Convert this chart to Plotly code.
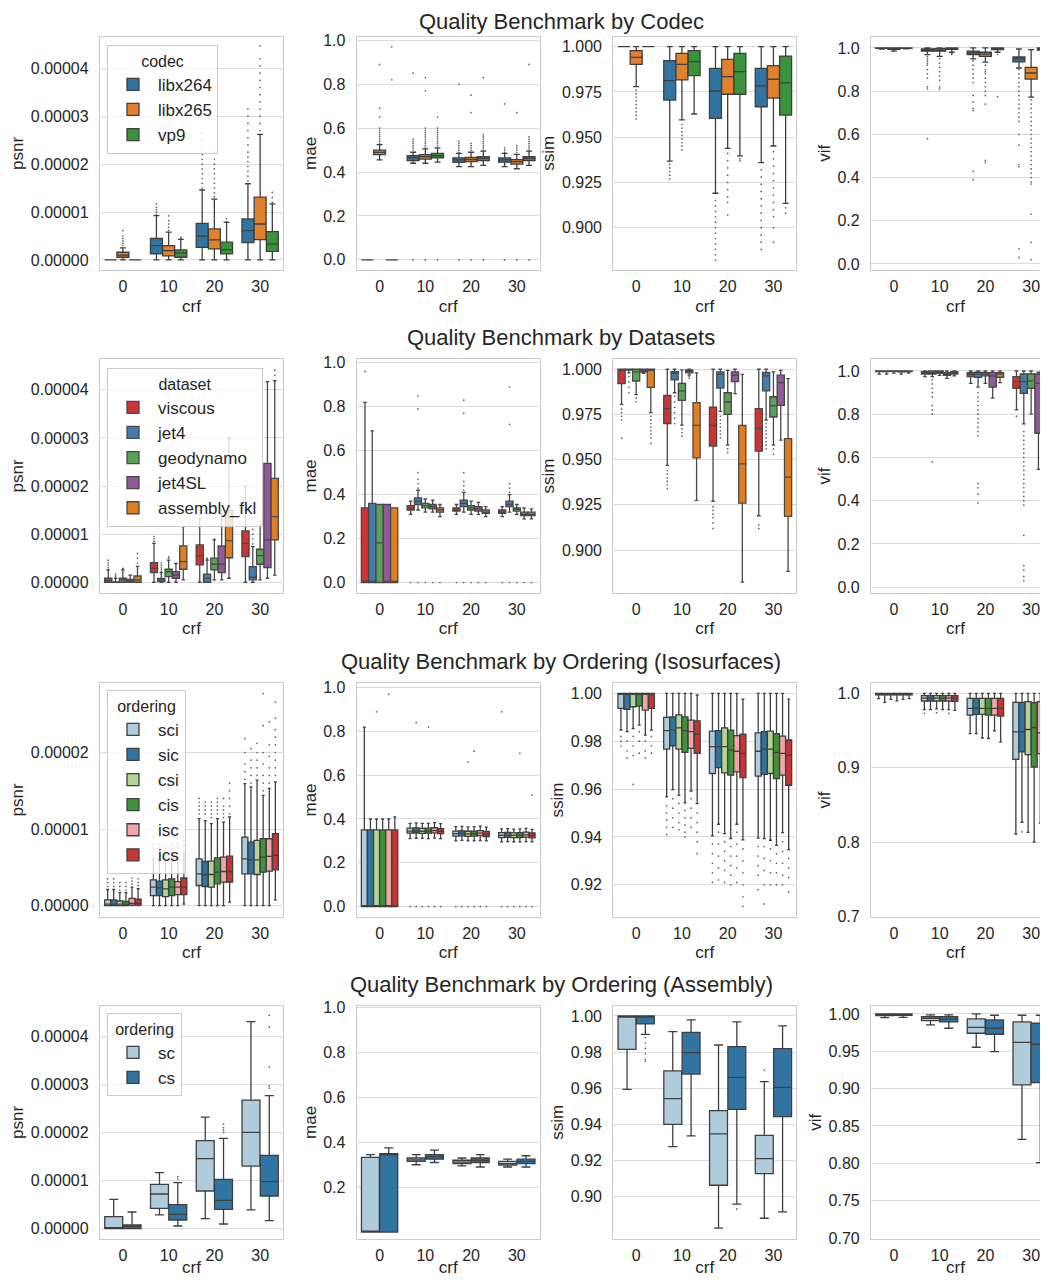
import plotly.graph_objects as go
from plotly.subplots import make_subplots

CRF_LABELS = ["0", "10", "20", "30"]
METRICS = ["psnr", "mae", "ssim", "vif"]

# ================= Row 1: codec =================
CODECS = ["libx264", "libx265", "vp9"]
CODEC_COLORS = ["#3274a1", "#e1812c", "#3a923a"]

# psnr values in units of 1e-5 ; rows = hue, cols = crf
codec_psnr_lo = [[0, 0, 0, 0], [0, 0, 0, 0], [0, 0, 0, 0]]
codec_psnr_q1 = [[0, 0.125, 0.264, 0.362], [0.056, 0.083, 0.23, 0.424], [0, 0.056, 0.125, 0.18]]
codec_psnr_med = [[0, 0.30, 0.494, 0.612], [0.10, 0.195, 0.417, 0.75], [0, 0.146, 0.216, 0.334]]
codec_psnr_q3 = [[0, 0.45, 0.765, 0.856], [0.16, 0.30, 0.647, 1.31], [0, 0.21, 0.37, 0.59]]
codec_psnr_hi = [[0, 0.925, 1.46, 1.59], [0.25, 0.58, 1.27, 2.62], [0, 0.43, 0.786, 1.17]]
codec_psnr_fl = [
    [[], [0.95, 1.0, 1.05, 1.1, 1.17], [1.5, 1.6, 1.7, 1.8, 1.9, 2.0, 2.1, 2.2, 2.35, 2.5, 2.65],
     [1.65, 1.75, 1.85, 1.95, 2.05, 2.15, 2.25, 2.4, 2.55, 2.7, 2.85, 3.0, 3.15]],
    [[0.3, 0.35, 0.4, 0.45, 0.5, 0.61], [0.62, 0.68, 0.75, 0.82, 0.92],
     [1.32, 1.4, 1.5, 1.6, 1.7, 1.8, 1.9, 2.0, 2.1, 2.25],
     [2.7, 2.85, 3.0, 3.15, 3.3, 3.45, 3.6, 3.75, 3.9, 4.05, 4.2, 4.47]],
    [[], [0.45, 0.47], [0.8, 0.86], [1.2, 1.3, 1.41]],
]

codec_mae_lo = [[0, 0.44, 0.425, 0.425], [0.455, 0.44, 0.425, 0.415], [0, 0.445, 0.43, 0.43]]
codec_mae_q1 = [[0, 0.452, 0.444, 0.445], [0.479, 0.459, 0.448, 0.436], [0, 0.464, 0.452, 0.452]]
codec_mae_med = [[0, 0.464, 0.455, 0.455], [0.489, 0.47, 0.458, 0.447], [0, 0.474, 0.462, 0.462]]
codec_mae_q3 = [[0, 0.474, 0.464, 0.464], [0.50, 0.479, 0.467, 0.456], [0, 0.485, 0.47, 0.47]]
codec_mae_hi = [[0, 0.49, 0.485, 0.485], [0.525, 0.505, 0.49, 0.48], [0, 0.51, 0.495, 0.495]]
codec_mae_fl = [
    [[], [0.0, 0.5, 0.51, 0.52, 0.53, 0.54, 0.55, 0.85], [0.0, 0.49, 0.5, 0.51, 0.52, 0.53, 0.54, 0.80],
     [0.0, 0.49, 0.5, 0.51, 0.71]],
    [[0.53, 0.54, 0.55, 0.56, 0.57, 0.58, 0.59, 0.6, 0.65, 0.69, 0.89],
     [0.0, 0.51, 0.52, 0.53, 0.54, 0.55, 0.56, 0.57, 0.58, 0.59, 0.6, 0.77, 0.83],
     [0.0, 0.5, 0.51, 0.52, 0.53, 0.67, 0.75], [0.0, 0.49, 0.5, 0.51, 0.52, 0.67]],
    [[0.82, 0.97], [0.0, 0.52, 0.53, 0.54, 0.55, 0.56, 0.57, 0.58, 0.59, 0.6, 0.65],
     [0.0, 0.5, 0.51, 0.52, 0.53, 0.54, 0.55, 0.56, 0.57, 0.83],
     [0.0, 0.5, 0.51, 0.52, 0.53, 0.54, 0.55, 0.56, 0.89]],
]

codec_ssim_lo = [[1, 0.9368, 0.919, 0.9359], [0.9779, 0.9595, 0.9438, 0.9451], [1, 0.9628, 0.9396, 0.9134]]
codec_ssim_q1 = [[1, 0.9705, 0.9604, 0.9668], [0.9902, 0.9816, 0.9737, 0.9716], [1, 0.984, 0.9737, 0.9622]]
codec_ssim_med = [[1, 0.9812, 0.9755, 0.9783], [0.9941, 0.9902, 0.9834, 0.982], [1, 0.9917, 0.9862, 0.980]]
codec_ssim_q3 = [[1, 0.9923, 0.988, 0.988], [0.9978, 0.9963, 0.993, 0.9895], [1, 0.9978, 0.9963, 0.9948]]
codec_ssim_hi = [[1, 1, 1, 1], [1, 1, 1, 1], [1, 1, 1, 1]]
codec_ssim_fl = [
    [[], [0.935, 0.933, 0.931, 0.929, 0.927],
     [0.915, 0.912, 0.909, 0.906, 0.903, 0.90, 0.897, 0.894, 0.891, 0.888, 0.885, 0.882],
     [0.932, 0.928, 0.924, 0.92, 0.916, 0.912, 0.908, 0.904, 0.90, 0.896, 0.892, 0.888]],
    [[0.976, 0.974, 0.972, 0.97, 0.968, 0.966, 0.964, 0.962, 0.96],
     [0.957, 0.955, 0.953, 0.951, 0.949, 0.947, 0.945, 0.943],
     [0.941, 0.937, 0.933, 0.929, 0.925, 0.921, 0.917, 0.914, 0.907],
     [0.942, 0.938, 0.934, 0.93, 0.926, 0.922, 0.918, 0.914, 0.91, 0.906, 0.90, 0.892]],
    [[], [], [0.938, 0.937], [0.911, 0.908]],
]

codec_vif_lo = [[0.995, 0.969, 0.949, 0.907], [0.985, 0.961, 0.934, 0.772], [0.996, 0.98, 0.98, 0.98]]
codec_vif_q1 = [[0.998, 0.985, 0.969, 0.935], [0.994, 0.985, 0.961, 0.856], [0.998, 0.993, 0.992, 0.99]]
codec_vif_med = [[0.999, 0.99, 0.977, 0.949], [0.998, 0.99, 0.971, 0.884], [0.999, 0.997, 0.997, 0.995]]
codec_vif_q3 = [[1, 0.995, 0.985, 0.958], [1, 0.997, 0.98, 0.91], [1, 1, 1, 1]]
codec_vif_hi = [[1, 1, 1, 0.995], [1, 1, 1, 0.992], [1, 1, 1, 1]]
codec_vif_fl = [
    [[], [0.96, 0.95, 0.94, 0.93, 0.92, 0.9, 0.88, 0.86, 0.82, 0.81, 0.58],
     [0.94, 0.92, 0.9, 0.88, 0.86, 0.84, 0.78, 0.75, 0.72, 0.71, 0.43, 0.39],
     [0.9, 0.88, 0.86, 0.84, 0.82, 0.8, 0.78, 0.76, 0.74, 0.72, 0.7, 0.68, 0.66, 0.6, 0.55, 0.46, 0.45, 0.07, 0.03]],
    [[], [0.95, 0.93, 0.91, 0.89, 0.87, 0.85, 0.82, 0.81],
     [0.92, 0.9, 0.89, 0.88, 0.86, 0.84, 0.82, 0.8, 0.78, 0.74, 0.48, 0.47],
     [0.76, 0.74, 0.72, 0.7, 0.68, 0.66, 0.64, 0.62, 0.6, 0.58, 0.56, 0.54, 0.52, 0.5, 0.48,
      0.46, 0.44, 0.42, 0.4, 0.38, 0.37, 0.23, 0.1, 0.02]],
    [[], [0.975, 0.97], [0.97, 0.775], [0.97, 0.69]],
]

# ================= Row 2: dataset =================
DATASETS = ["viscous", "jet4", "geodynamo", "jet4SL", "assembly_fkl"]
DATASET_COLORS = ["#cb3335", "#477ca8", "#59a257", "#905998", "#df8020"]

ds_psnr_lo = [[0, 0, 0, 0], [0, 0, 0, 0], [0, 0, 0.05, 0.05], [0, 0, 0.05, 0.083], [0, 0.05, 0.083, 0.15]]
ds_psnr_q1 = [[0, 0.2, 0.36, 0.534], [0, 0.014, 0, 0.05], [0, 0.118, 0.256, 0.374], [0.005, 0.083, 0.2, 0.305], [0, 0.27, 0.51, 0.88]]
ds_psnr_med = [[0.03, 0.29, 0.554, 0.81], [0.005, 0.05, 0.08, 0.104], [0.05, 0.22, 0.374, 0.554], [0.03, 0.15, 0.374, 0.88], [0.05, 0.43, 0.866, 1.365]]
ds_psnr_q3 = [[0.083, 0.409, 0.776, 1.067], [0.01, 0.08, 0.17, 0.326], [0.083, 0.27, 0.5, 0.686], [0.06, 0.22, 0.755, 2.47], [0.13, 0.755, 1.5, 2.16]]
ds_psnr_hi = [[0.256, 0.81, 1.33, 2.0], [0.08, 0.2, 0.46, 0.74], [0.256, 0.46, 0.88, 1.19], [0.15, 0.39, 1.43, 4.17], [0.33, 1.157, 3.0, 4.19]]
ds_psnr_fl = [
    [[0.3, 0.35, 0.4, 0.46], [0.85, 0.9, 0.95], [1.4, 1.5, 1.6], [2.1]],
    [[0.1, 0.13, 0.17], [0.22, 0.26, 0.3, 0.35, 0.4], [0.48, 0.5], [0.8, 0.9, 1.0, 1.1, 1.2]],
    [[0.28, 0.29], [0.5, 0.53], [0.9], [1.25]],
    [[], [], [], []],
    [[0.4, 0.5, 0.6], [], [], [4.3, 4.41]],
]

ds_mae_lo = [[0, 0.31, 0.31, 0.30], [0, 0.33, 0.32, 0.32], [0, 0.32, 0.31, 0.31], [0, 0.32, 0.31, 0.29], [0, 0.30, 0.30, 0.29]]
ds_mae_q1 = [[0, 0.33, 0.325, 0.315], [0, 0.355, 0.345, 0.345], [0, 0.34, 0.33, 0.325], [0, 0.335, 0.325, 0.305], [0, 0.32, 0.315, 0.305]]
ds_mae_med = [[0, 0.34, 0.33, 0.32], [0, 0.37, 0.36, 0.355], [0.18, 0.35, 0.34, 0.333], [0, 0.345, 0.335, 0.31], [0, 0.33, 0.32, 0.31]]
ds_mae_q3 = [[0.34, 0.35, 0.34, 0.33], [0.36, 0.385, 0.375, 0.37], [0.355, 0.36, 0.35, 0.34], [0.355, 0.355, 0.345, 0.32], [0.34, 0.34, 0.33, 0.32]]
ds_mae_hi = [[0.82, 0.37, 0.355, 0.345], [0.69, 0.42, 0.41, 0.40], [0.355, 0.38, 0.37, 0.355], [0.355, 0.375, 0.365, 0.34], [0.34, 0.355, 0.345, 0.335]]
ds_mae_fl = [
    [[0.96], [0.0], [0.0], [0.0]],
    [[], [0.0, 0.43, 0.45, 0.47, 0.5, 0.79, 0.85], [0.0, 0.42, 0.44, 0.46, 0.5, 0.77, 0.83], [0.0, 0.41, 0.43, 0.45, 0.72, 0.89]],
    [[], [0.0], [0.0], [0.0]],
    [[], [0.0], [0.0], [0.0]],
    [[], [0.0], [0.0], [0.0]],
]

ds_ssim_lo = [[0.9806, 0.9468, 0.927, 0.919], [0.998, 0.987, 0.9767, 0.9719], [0.986, 0.9691, 0.958, 0.958], [0.9978, 0.9967, 0.9865, 0.9608], [0.976, 0.9275, 0.8823, 0.8882]]
ds_ssim_q1 = [[0.992, 0.970, 0.9575, 0.9547], [0.9995, 0.9941, 0.9896, 0.988], [0.9935, 0.9828, 0.975, 0.9736], [0.9985, 0.998, 0.9932, 0.98], [0.990, 0.951, 0.926, 0.9187]]
ds_ssim_med = [[1.0, 0.9782, 0.969, 0.9673], [1.0, 0.9978, 0.9972, 0.9963], [0.9985, 0.988, 0.9819, 0.9797], [0.999, 0.9989, 0.9967, 0.9926], [1.0, 0.969, 0.9477, 0.9403]]
ds_ssim_q3 = [[1, 0.9856, 0.979, 0.9782], [1, 0.9987, 0.9985, 0.9982], [1, 0.9922, 0.987, 0.9848], [1, 0.9996, 0.9985, 0.9967], [1, 0.9815, 0.969, 0.9616]]
ds_ssim_hi = [[1, 1, 1, 1], [1, 1, 1, 1], [1, 0.9996, 0.9994, 0.9985], [1, 1, 1, 0.9994], [1, 0.998, 0.9972, 0.9948]]
ds_ssim_fl = [
    [[0.978, 0.976, 0.974, 0.972, 0.962], [0.944, 0.942, 0.94, 0.938, 0.936, 0.934],
     [0.924, 0.922, 0.92, 0.918, 0.915, 0.912], [0.914, 0.912]],
    [[0.996, 0.993, 0.99, 0.987], [0.985, 0.982, 0.979, 0.976, 0.973, 0.970],
     [0.974, 0.972, 0.97, 0.968, 0.966, 0.964, 0.962], [0.97, 0.968, 0.966, 0.964, 0.962, 0.96, 0.958, 0.956]],
    [[0.984, 0.982], [0.967, 0.965, 0.963], [0.956, 0.954], [0.956, 0.953]],
    [[], [0.996, 0.995], [], []],
    [[0.974, 0.972, 0.970, 0.968, 0.966, 0.964, 0.962, 0.959], [], [], []],
]

ds_vif_lo = [[0.985, 0.974, 0.943, 0.82], [0.985, 0.974, 0.925, 0.755], [0.99, 0.98, 0.943, 0.80], [0.985, 0.966, 0.874, 0.545], [0.99, 0.977, 0.946, 0.80]]
ds_vif_q1 = [[0.997, 0.986, 0.974, 0.92], [0.997, 0.986, 0.971, 0.897], [0.998, 0.989, 0.977, 0.92], [0.996, 0.98, 0.925, 0.712], [0.997, 0.986, 0.971, 0.909]]
ds_vif_med = [[0.999, 0.992, 0.985, 0.951], [0.999, 0.992, 0.985, 0.951], [0.999, 0.995, 0.985, 0.954], [0.998, 0.986, 0.977, 0.943], [0.999, 0.992, 0.985, 0.958]]
ds_vif_q3 = [[1, 0.997, 0.992, 0.974], [1, 1, 0.994, 0.986], [1, 1, 0.992, 0.986], [1, 0.992, 0.992, 0.986], [1, 0.997, 0.992, 0.992]]
ds_vif_hi = [[1, 1, 1, 1], [1, 1, 1, 1], [1, 1, 1, 1], [1, 1, 1, 0.994], [1, 1, 1, 1]]
ds_vif_fl = [
    [[], [], [], [0.79]],
    [[], [0.96, 0.94, 0.92, 0.9, 0.88, 0.84, 0.82, 0.8, 0.58],
     [0.9, 0.88, 0.86, 0.84, 0.82, 0.8, 0.78, 0.76, 0.74, 0.72, 0.7, 0.48, 0.46, 0.43, 0.39],
     [0.72, 0.7, 0.68, 0.66, 0.64, 0.62, 0.6, 0.58, 0.56, 0.54, 0.52, 0.5, 0.48, 0.46, 0.44,
      0.42, 0.4, 0.38, 0.24, 0.1, 0.08, 0.05, 0.03]],
    [[], [], [], []],
    [[], [], [], []],
    [[], [], [], []],
]

# ================= Row 3: ordering (isosurfaces) =================
ORDER6 = ["sci", "sic", "csi", "cis", "isc", "ics"]
ORDER6_COLORS = ["#aeccdc", "#3274a1", "#b3d495", "#40923a", "#efa6a5", "#ca3334"]

iso_psnr_lo = [[0, 0, 0, 0], [0, 0, 0, 0], [0, 0, 0, 0], [0, 0, 0, 0], [0, 0, 0, 0], [0, 0.02, 0.044, 0.074]]
iso_psnr_q1 = [[0, 0.131, 0.262, 0.415], [0, 0.131, 0.249, 0.415], [0, 0.118, 0.24, 0.406], [0, 0.131, 0.284, 0.437], [0.005, 0.144, 0.306, 0.45], [0.005, 0.144, 0.306, 0.467]]
iso_psnr_med = [[0.02, 0.24, 0.415, 0.611], [0.02, 0.23, 0.406, 0.598], [0.02, 0.218, 0.406, 0.598], [0.02, 0.24, 0.437, 0.633], [0.03, 0.24, 0.445, 0.642], [0.03, 0.24, 0.445, 0.655]]
iso_psnr_q3 = [[0.075, 0.336, 0.611, 0.895], [0.075, 0.319, 0.576, 0.83], [0.06, 0.336, 0.58, 0.852], [0.055, 0.35, 0.624, 0.873], [0.095, 0.314, 0.633, 0.873], [0.085, 0.36, 0.646, 0.939]]
iso_psnr_hi = [[0.21, 0.61, 1.135, 1.594], [0.21, 0.59, 1.11, 1.55], [0.17, 0.60, 1.07, 1.64], [0.17, 0.63, 1.135, 1.44], [0.24, 0.62, 1.09, 1.53], [0.22, 0.686, 1.157, 1.616]]
iso_psnr_fl = [
    [[0.25, 0.3, 0.35, 0.48], [0.65, 0.7, 0.75, 0.8, 0.9], [1.2, 1.25, 1.3, 1.35, 1.4], [1.65, 1.75, 1.85, 2.0, 2.18]],
    [[0.25, 0.3, 0.35], [0.65, 0.7, 0.75, 0.8, 0.9], [1.2, 1.25, 1.3, 1.35], [1.6, 1.7, 1.8, 1.9, 2.05]],
    [[0.2, 0.25, 0.3], [0.65, 0.7, 0.75, 0.8, 0.9], [1.15, 1.2, 1.25, 1.3, 1.35], [1.7, 1.8, 1.9, 2.0, 2.12]],
    [[0.2, 0.25, 0.3], [0.65, 0.7, 0.75, 0.8, 0.9], [1.2, 1.25, 1.3, 1.35, 1.4], [1.5, 1.6, 1.7, 1.85, 2.0, 2.35, 2.77]],
    [[0.28, 0.32, 0.36], [0.65, 0.7, 0.75, 0.8, 0.9], [1.15, 1.2, 1.25, 1.3, 1.4], [1.6, 1.7, 1.8, 1.95, 2.1, 2.4]],
    [[0.26, 0.3, 0.35], [0.72, 0.78, 0.85, 0.9], [1.2, 1.3, 1.4, 1.5, 1.6], [1.7, 1.8, 1.9, 2.0, 2.1, 2.2, 2.3, 2.45, 2.66]],
]

iso_mae_lo = [[0, 0.31, 0.30, 0.295], [0, 0.312, 0.302, 0.297], [0, 0.311, 0.30, 0.296], [0, 0.31, 0.30, 0.295], [0, 0.313, 0.301, 0.297], [0, 0.31, 0.30, 0.295]]
iso_mae_q1 = [[0, 0.335, 0.322, 0.315], [0, 0.336, 0.323, 0.316], [0, 0.334, 0.321, 0.315], [0, 0.335, 0.322, 0.315], [0, 0.337, 0.324, 0.317], [0, 0.333, 0.32, 0.314]]
iso_mae_med = [[0, 0.345, 0.333, 0.325], [0, 0.346, 0.334, 0.326], [0, 0.344, 0.332, 0.325], [0, 0.345, 0.333, 0.325], [0, 0.347, 0.335, 0.327], [0, 0.343, 0.331, 0.324]]
iso_mae_q3 = [[0.35, 0.358, 0.345, 0.338], [0.35, 0.359, 0.346, 0.339], [0.35, 0.357, 0.344, 0.337], [0.35, 0.358, 0.345, 0.338], [0.35, 0.36, 0.347, 0.34], [0.35, 0.356, 0.343, 0.336]]
iso_mae_hi = [[0.82, 0.38, 0.365, 0.355], [0.40, 0.382, 0.366, 0.356], [0.40, 0.38, 0.364, 0.354], [0.40, 0.38, 0.365, 0.355], [0.40, 0.383, 0.367, 0.357], [0.41, 0.379, 0.363, 0.353]]
iso_mae_fl = [
    [[], [0.0], [0.0], [0.0, 0.89]],
    [[], [0.0, 0.84], [0.0], [0.0]],
    [[0.89], [0.0], [0.0, 0.66], [0.0]],
    [[], [0.0, 0.82], [0.0, 0.71], [0.0, 0.7]],
    [[0.97], [0.0], [0.0], [0.0]],
    [[], [0.0], [0.0], [0.0, 0.51]],
]

iso_ssim_lo = [[0.9846, 0.9567, 0.9404, 0.9395], [0.984, 0.9598, 0.9453, 0.9393], [0.9853, 0.9574, 0.9414, 0.9386], [0.9867, 0.9542, 0.9393, 0.9365], [0.9825, 0.9592, 0.9453, 0.9418], [0.9846, 0.9539, 0.9388, 0.9347]]
iso_ssim_q1 = [[0.9937, 0.9767, 0.9665, 0.9654], [0.9933, 0.9781, 0.969, 0.9662], [0.9944, 0.9767, 0.9668, 0.9665], [0.9947, 0.9753, 0.9658, 0.9644], [0.993, 0.977, 0.9672, 0.9658], [0.9937, 0.9749, 0.9648, 0.9616]]
iso_ssim_med = [[1.0, 0.9844, 0.9777, 0.9758], [1.0, 0.9846, 0.9777, 0.9767], [1.0, 0.9856, 0.9777, 0.9767], [1.0, 0.9844, 0.9763, 0.9753], [1.0, 0.984, 0.9758, 0.9749], [1.0, 0.983, 0.9749, 0.9742]]
iso_ssim_q3 = [[1, 0.99, 0.9842, 0.9835], [1, 0.9902, 0.9844, 0.984], [1, 0.991, 0.9856, 0.9842], [1, 0.9902, 0.9846, 0.9832], [1, 0.9888, 0.9823, 0.9821], [1, 0.9885, 0.983, 0.9805]]
iso_ssim_hi = [[1, 1, 1, 1], [1, 1, 1, 1], [1, 1, 1, 1], [1, 1, 1, 1], [1, 1, 1, 1], [1, 0.9993, 0.9976, 0.9976]]
iso_ssim_fl = [
    [[0.982, 0.98, 0.978], [0.953, 0.95, 0.947, 0.944, 0.941], [0.937, 0.933, 0.929, 0.925, 0.921], [0.936, 0.932, 0.928, 0.924, 0.918]],
    [[0.98, 0.976, 0.973], [0.956, 0.952, 0.948, 0.944], [0.942, 0.937, 0.932, 0.927, 0.922], [0.936, 0.931, 0.926, 0.92, 0.912]],
    [[0.982, 0.978, 0.974, 0.962], [0.954, 0.95, 0.946, 0.943], [0.938, 0.934, 0.93, 0.926, 0.921], [0.935, 0.93, 0.925, 0.92]],
    [[0.984, 0.98, 0.975], [0.951, 0.948, 0.945, 0.942, 0.94], [0.936, 0.932, 0.928, 0.924, 0.92], [0.933, 0.929, 0.925, 0.92]],
    [[0.98, 0.976, 0.973], [0.956, 0.952, 0.948, 0.944], [0.942, 0.937, 0.932, 0.927, 0.921], [0.938, 0.934, 0.929, 0.924, 0.92]],
    [[0.982, 0.978, 0.975], [0.95, 0.946, 0.942, 0.938, 0.933], [0.935, 0.93, 0.925, 0.92, 0.915, 0.911], [0.931, 0.927, 0.923, 0.917]],
]

iso_vif_lo = [[0.993, 0.978, 0.946, 0.811], [0.988, 0.978, 0.946, 0.8268], [0.992, 0.979, 0.94, 0.8133], [0.99, 0.978, 0.9393, 0.80], [0.992, 0.978, 0.9496, 0.8255], [0.993, 0.977, 0.9348, 0.785]]
iso_vif_q1 = [[0.998, 0.9897, 0.9708, 0.9114], [0.998, 0.9897, 0.9717, 0.9213], [0.998, 0.9897, 0.9717, 0.9177], [0.998, 0.9897, 0.9708, 0.901], [0.998, 0.9897, 0.9708, 0.919], [0.998, 0.9893, 0.9694, 0.8988]]
iso_vif_med = [[0.999, 0.9937, 0.9798, 0.9483], [0.999, 0.9937, 0.9798, 0.9483], [0.999, 0.9937, 0.9798, 0.9514], [0.999, 0.9937, 0.9798, 0.9541], [0.999, 0.9937, 0.9798, 0.9469], [0.999, 0.9937, 0.9798, 0.9514]]
iso_vif_q3 = [[1, 0.9969, 0.9933, 0.9879], [1, 0.9969, 0.9933, 0.9879], [1, 0.9969, 0.9933, 0.9888], [1, 0.9969, 0.9933, 0.9874], [1, 0.9969, 0.9933, 0.9888], [1, 0.9969, 0.9933, 0.9888]]
iso_vif_hi = [[1, 1, 1, 1], [1, 1, 1, 1], [1, 1, 1, 1], [1, 1, 1, 1], [1, 1, 1, 1], [1, 1, 1, 1]]
iso_vif_fl = [
    [[], [0.973], [], []], [[], [], [], [0.814]], [[], [0.974], [], []],
    [[], [], [], []], [[], [0.973], [], []], [[], [], [], []],
]

# ================= Row 4: ordering (assembly) =================
ORDER2 = ["sc", "cs"]
ORDER2_COLORS = ["#aeccdc", "#3274a1"]

asm_psnr_lo = [[0, 0.284, 0.208, 0.388], [0, 0.055, 0.097, 0.166]]
asm_psnr_q1 = [[0, 0.422, 0.782, 1.3], [0, 0.18, 0.401, 0.678]]
asm_psnr_med = [[0, 0.72, 1.453, 2.0], [0.04, 0.298, 0.588, 0.976]]
asm_psnr_q3 = [[0.249, 0.92, 1.827, 2.67], [0.076, 0.498, 1.024, 1.523]]
asm_psnr_hi = [[0.609, 1.163, 2.318, 4.3], [0.346, 0.955, 1.875, 2.761]]
asm_psnr_fl = [
    [[], [], [], []],
    [[], [1.03, 1.08], [2.0, 2.05, 2.1, 2.17], [2.92, 2.97, 3.36, 4.19, 4.43]],
]

asm_mae_lo = [[0, 0.30, 0.295, 0.29], [0, 0.31, 0.29, 0.29]]
asm_mae_q1 = [[0, 0.315, 0.305, 0.298], [0, 0.325, 0.31, 0.305]]
asm_mae_med = [[0, 0.322, 0.312, 0.305], [0.345, 0.335, 0.32, 0.315]]
asm_mae_q3 = [[0.333, 0.33, 0.32, 0.315], [0.35, 0.345, 0.33, 0.325]]
asm_mae_hi = [[0.345, 0.345, 0.33, 0.325], [0.375, 0.365, 0.345, 0.34]]
asm_mae_fl = [[[], [], [], []], [[], [], [], []]]

asm_ssim_lo = [[0.9593, 0.9275, 0.8823, 0.8878], [0.9898, 0.9335, 0.8956, 0.8913]]
asm_ssim_q1 = [[0.9815, 0.9399, 0.9061, 0.9126], [0.9956, 0.9678, 0.9482, 0.9442]]
asm_ssim_med = [[1.0, 0.9542, 0.9346, 0.9209], [0.9996, 0.9797, 0.966, 0.9604]]
asm_ssim_q3 = [[1.0, 0.9695, 0.9475, 0.9338], [1.0, 0.9909, 0.983, 0.9819]]
asm_ssim_hi = [[1.0, 0.9913, 0.9839, 0.9636], [1.0, 0.9978, 0.9967, 0.9945]]
asm_ssim_fl = [
    [[], [], [], [0.97]],
    [[0.988, 0.985, 0.982, 0.979, 0.976, 0.975], [], [0.893], []],
]

asm_vif_lo = [[0.995, 0.9853, 0.9554, 0.8321], [0.9955, 0.9808, 0.9496, 0.8009]]
asm_vif_q1 = [[0.9978, 0.9911, 0.9741, 0.9049], [0.998, 0.9893, 0.9728, 0.908]]
asm_vif_med = [[0.9995, 0.9942, 0.9821, 0.962], [0.9995, 0.9929, 0.9808, 0.9594]]
asm_vif_q3 = [[1.0, 0.9964, 0.9933, 0.9893], [1.0, 0.9964, 0.992, 0.9875]]
asm_vif_hi = [[1.0, 0.9987, 1.0, 0.9982], [1.0, 0.9987, 0.9982, 0.9982]]
asm_vif_fl = [[[], [], [], []], [[], [], [], []]]

ROW_TITLES = ["Quality Benchmark by Codec", "Quality Benchmark by Datasets",
              "Quality Benchmark by Ordering (Isosurfaces)", "Quality Benchmark by Ordering (Assembly)"]

ROWS = [
    dict(hues=CODECS, colors=CODEC_COLORS, line="#3f3f3f", legend_title="codec", data=[
        (codec_psnr_lo, codec_psnr_q1, codec_psnr_med, codec_psnr_q3, codec_psnr_hi, codec_psnr_fl),
        (codec_mae_lo, codec_mae_q1, codec_mae_med, codec_mae_q3, codec_mae_hi, codec_mae_fl),
        (codec_ssim_lo, codec_ssim_q1, codec_ssim_med, codec_ssim_q3, codec_ssim_hi, codec_ssim_fl),
        (codec_vif_lo, codec_vif_q1, codec_vif_med, codec_vif_q3, codec_vif_hi, codec_vif_fl)]),
    dict(hues=DATASETS, colors=DATASET_COLORS, line="#484848", legend_title="dataset", data=[
        (ds_psnr_lo, ds_psnr_q1, ds_psnr_med, ds_psnr_q3, ds_psnr_hi, ds_psnr_fl),
        (ds_mae_lo, ds_mae_q1, ds_mae_med, ds_mae_q3, ds_mae_hi, ds_mae_fl),
        (ds_ssim_lo, ds_ssim_q1, ds_ssim_med, ds_ssim_q3, ds_ssim_hi, ds_ssim_fl),
        (ds_vif_lo, ds_vif_q1, ds_vif_med, ds_vif_q3, ds_vif_hi, ds_vif_fl)]),
    dict(hues=ORDER6, colors=ORDER6_COLORS, line="#3f3f3f", legend_title="ordering", data=[
        (iso_psnr_lo, iso_psnr_q1, iso_psnr_med, iso_psnr_q3, iso_psnr_hi, iso_psnr_fl),
        (iso_mae_lo, iso_mae_q1, iso_mae_med, iso_mae_q3, iso_mae_hi, iso_mae_fl),
        (iso_ssim_lo, iso_ssim_q1, iso_ssim_med, iso_ssim_q3, iso_ssim_hi, iso_ssim_fl),
        (iso_vif_lo, iso_vif_q1, iso_vif_med, iso_vif_q3, iso_vif_hi, iso_vif_fl)]),
    dict(hues=ORDER2, colors=ORDER2_COLORS, line="#3f3f3f", legend_title="ordering", data=[
        (asm_psnr_lo, asm_psnr_q1, asm_psnr_med, asm_psnr_q3, asm_psnr_hi, asm_psnr_fl),
        (asm_mae_lo, asm_mae_q1, asm_mae_med, asm_mae_q3, asm_mae_hi, asm_mae_fl),
        (asm_ssim_lo, asm_ssim_q1, asm_ssim_med, asm_ssim_q3, asm_ssim_hi, asm_ssim_fl),
        (asm_vif_lo, asm_vif_q1, asm_vif_med, asm_vif_q3, asm_vif_hi, asm_vif_fl)]),
]

# y-axis settings (range, ticks, format) per row / metric
Y_AXES = [
    [dict(range=[-0.21e-5, 4.66e-5], dtick=1e-5, tickformat=".5f"),
     dict(range=[-0.046, 1.016], dtick=0.2, tickformat=".1f"),
     dict(range=[0.8766, 1.0055], dtick=0.025, tickformat=".3f"),
     dict(range=[-0.028, 1.052], dtick=0.2, tickformat=".1f")],
    [dict(range=[-0.215e-5, 4.636e-5], dtick=1e-5, tickformat=".5f"),
     dict(range=[-0.046, 1.016], dtick=0.2, tickformat=".1f"),
     dict(range=[0.8765, 1.0055], dtick=0.025, tickformat=".3f"),
     dict(range=[-0.025, 1.054], dtick=0.2, tickformat=".1f")],
    [dict(range=[-0.144e-5, 2.904e-5], dtick=1e-5, tickformat=".5f"),
     dict(range=[-0.046, 1.02], dtick=0.2, tickformat=".1f"),
     dict(range=[0.9067, 1.0042], dtick=0.02, tickformat=".2f"),
     dict(range=[0.7, 1.0135], dtick=0.1, tickformat=".1f")],
    [dict(range=[-0.215e-5, 4.63e-5], dtick=1e-5, tickformat=".5f"),
     dict(range=[-0.031, 1.009], tickvals=[0.2, 0.4, 0.6, 0.8, 1.0], tickformat=".1f"),
     dict(range=[0.8763, 1.0057], tickvals=[0.90, 0.92, 0.94, 0.96, 0.98, 1.00], tickformat=".2f"),
     dict(range=[0.6987, 1.011], dtick=0.05, tickformat=".2f")],
]

# ---------------- layout geometry (px) ----------------
FIG_W, FIG_H = 1032, 1269
COL_LEFT = [92, 348.7, 605.3, 863]
PANEL_W = 183
ROW_TOP = [28.7, 351.3, 675.3, 997.7]
PANEL_H = 233.3
TITLE_Y = [0, 330, 653, 976]
TITLE_ANCHOR = ["top", "middle", "middle", "middle"]
TITLE_X = 553
LEGEND_XY = [(99, 37), (99, 360), (99, 682), (99, 1005)]

TEXT = "#262626"
FONT = "Liberation Sans, Arial, Helvetica, sans-serif"
SPINE = "#cccccc"
GRID = "#dcdcdc"
FLIER = "rgba(70,70,70,0.85)"

fig = make_subplots(rows=4, cols=4)

for r, row in enumerate(ROWS):
    hues, colors, lc = row["hues"], row["colors"], row["line"]
    n = len(hues)
    bw = 0.8 / n
    legend_name = "legend" if r == 0 else f"legend{r + 1}"
    for c, metric in enumerate(METRICS):
        lo, q1, med, q3, hi, fl = row["data"][c]
        scale = 1e-5 if metric == "psnr" else 1.0
        for h in range(n):
            off = -0.4 + bw * (h + 0.5)
            xs = [i + off for i in range(len(CRF_LABELS))]
            fig.add_trace(go.Box(
                x=xs,
                lowerfence=[v * scale for v in lo[h]],
                q1=[v * scale for v in q1[h]],
                median=[v * scale for v in med[h]],
                q3=[v * scale for v in q3[h]],
                upperfence=[v * scale for v in hi[h]],
                width=bw * 0.98, whiskerwidth=0.5,
                fillcolor=colors[h], line=dict(color=lc, width=1.3),
                boxpoints=False, name=hues[h], legend=legend_name,
                showlegend=(c == 0), hoverinfo="skip",
            ), row=r + 1, col=c + 1)
            fx, fy = [], []
            for i in range(len(CRF_LABELS)):
                for v in fl[h][i]:
                    fx.append(i + off)
                    fy.append(v * scale)
            if fx:
                fig.add_trace(go.Scatter(
                    x=fx, y=fy, mode="markers",
                    marker=dict(size=1.7, color=FLIER, symbol="circle", line=dict(width=0)),
                    showlegend=False, hoverinfo="skip",
                ), row=r + 1, col=c + 1)

        # axes
        left = COL_LEFT[c]
        right = min(left + PANEL_W, FIG_W)
        xr_max = -0.5 + 4.0 * (right - left) / PANEL_W
        top = ROW_TOP[r]
        fig.update_xaxes(
            row=r + 1, col=c + 1,
            domain=[left / FIG_W, right / FIG_W],
            range=[-0.5, xr_max], automargin=False,
            tickmode="array", tickvals=[0, 1, 2, 3], ticktext=CRF_LABELS,
            ticklabeloverflow="allow",
            showgrid=False, zeroline=False,
            showline=True, linecolor=SPINE, linewidth=1.25, mirror=True,
            ticks="outside", ticklen=2, tickcolor="rgba(0,0,0,0)",
            tickfont=dict(size=16, color=TEXT, family=FONT),
            title=dict(text="crf", font=dict(size=17, color=TEXT, family=FONT), standoff=5),
        )
        ya = dict(Y_AXES[r][c])
        yopts = dict(
            domain=[1 - (top + PANEL_H) / FIG_H, 1 - top / FIG_H],
            range=ya["range"], tickformat=ya["tickformat"], automargin=False,
            showgrid=True, gridcolor=GRID, gridwidth=1, zeroline=False,
            showline=True, linecolor=SPINE, linewidth=1.25, mirror=(c < 3),
            ticks="outside", ticklen=7, tickcolor="rgba(0,0,0,0)",
            tickfont=dict(size=16, color=TEXT, family=FONT),
            title=dict(text=metric, font=dict(size=17, color=TEXT, family=FONT), standoff=2),
        )
        if "tickvals" in ya:
            yopts.update(tickmode="array", tickvals=ya["tickvals"])
        else:
            yopts.update(tick0=0, dtick=ya["dtick"])
        fig.update_yaxes(row=r + 1, col=c + 1, **yopts)

# legends
for r, row in enumerate(ROWS):
    key = "legend" if r == 0 else f"legend{r + 1}"
    lx, ly = LEGEND_XY[r]
    fig.update_layout({key: dict(
        x=lx / FIG_W, y=1 - ly / FIG_H, xanchor="left", yanchor="top",
        bgcolor="rgba(255,255,255,0.8)", bordercolor=SPINE, borderwidth=1,
        font=dict(size=17, color=TEXT, family=FONT), itemwidth=40,
        title=dict(text=row["legend_title"], side="top center",
                   font=dict(size=16, color=TEXT, family=FONT)),
        traceorder="normal", itemclick=False,
    )})

# row titles
for r, t in enumerate(ROW_TITLES):
    fig.add_annotation(
        text=t, xref="paper", yref="paper",
        x=TITLE_X / FIG_W, y=1 - TITLE_Y[r] / FIG_H,
        xanchor="center", yanchor=TITLE_ANCHOR[r], showarrow=False,
        font=dict(size=22, color=TEXT, family=FONT), borderpad=0,
    )

fig.update_layout(
    width=FIG_W, height=FIG_H,
    margin=dict(l=0, r=0, t=0, b=0, autoexpand=False),
    paper_bgcolor="white", plot_bgcolor="white",
    font=dict(family=FONT, color=TEXT),
    boxmode="overlay",
)

fig.write_html("out.html")
